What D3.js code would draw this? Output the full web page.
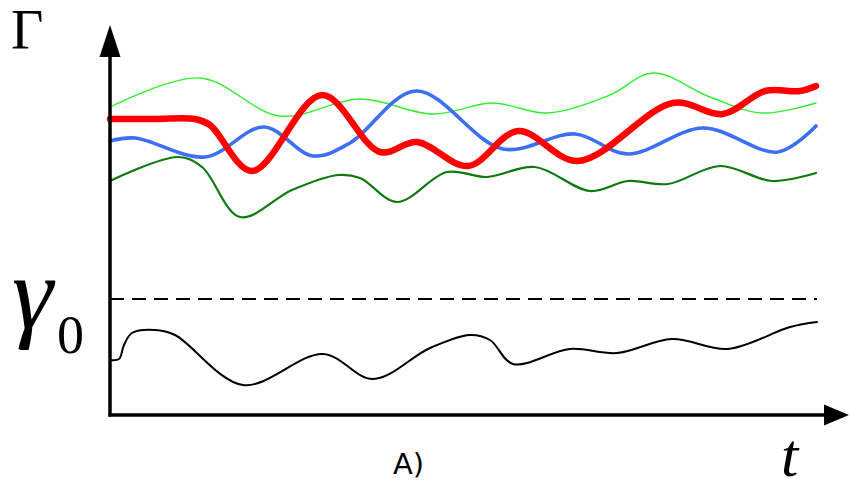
<!DOCTYPE html>
<html>
<head>
<meta charset="utf-8">
<script src="https://cdn.jsdelivr.net/npm/d3@7"></script>
<style>
  html, body { margin: 0; padding: 0; background: #fff; }
  svg { display: block; }
</style>
</head>
<body>
<div id="chart"></div>
<script>
// values: t along the time axis, value = height above the t axis
const lightGreenT = [0, 90, 170, 250, 323, 383, 437, 500, 543, 600, 652, 706];
const lightGreen  = [308, 337, 299, 316, 301, 312, 302, 320, 342, 318, 302, 312];

const blueT = [0, 25, 95, 154, 203, 240, 306, 393, 465, 518, 593, 668, 706];
const blue  = [274, 277, 258, 288, 259, 272, 324, 266, 281, 261, 287, 263, 289];

const redT = [0, 45, 85, 100, 142, 212, 270, 307, 358, 408, 468, 563, 613, 655, 690, 706];
const red  = [296, 296, 296, 290, 244, 320, 263, 273, 249, 284, 254, 312, 301, 324, 324, 329];

const darkGreenT = [0, 68, 92, 130, 182, 228, 250, 287, 337, 377, 425, 480, 518, 558, 610, 662, 706];
const darkGreen  = [234, 258, 248, 198, 225, 240, 237, 213, 243, 238, 248, 224, 234, 231, 249, 234, 242];

const blackT = [0, 9, 14, 22, 45, 65, 133, 213, 263, 320, 360, 380, 403, 460, 507, 562, 618, 680, 707];
const black  = [55, 56, 70, 82, 85, 80, 30, 61, 36, 67, 80, 75, 51, 66, 62, 76, 66, 88, 93];

const gamma0 = 116;

const width = 850, height = 483;
const margin = {top: 25, right: 33, bottom: 68, left: 110};

const svg = d3.select('#chart').append('svg')
    .attr('width', width)
    .attr('height', height);

const x = d3.scaleLinear()
    .domain([0, 707])
    .range([margin.left, margin.left + 707]);

const y = d3.scaleLinear()
    .domain([0, 390])
    .range([height - margin.bottom, height - margin.bottom - 390]);

const line = d3.line()
    .x(d => x(d[0]))
    .y(d => y(d[1]))
    .curve(d3.curveCatmullRom.alpha(0.5));

const zip = (ts, vs) => ts.map((t, i) => [t, vs[i]]);

const series = [
    {t: lightGreenT, v: lightGreen, color: '#2ef02e', w: 1.4},
    {t: darkGreenT, v: darkGreen, color: '#0d7a0d', w: 2.2},
    {t: blueT, v: blue, color: '#3d6ff5', w: 3.6},
    {t: redT, v: red, color: '#ff0000', w: 6.5},
    {t: blackT, v: black, color: '#000', w: 2}
];

// dashed threshold
svg.append('line')
    .attr('x1', x(0))
    .attr('x2', x(707))
    .attr('y1', y(gamma0))
    .attr('y2', y(gamma0))
    .attr('stroke', '#000')
    .attr('stroke-width', 2)
    .attr('stroke-dasharray', '14,8');

svg.selectAll('.curve')
    .data(series)
    .enter().append('path')
    .attr('class', 'curve')
    .attr('fill', 'none')
    .attr('stroke', d => d.color)
    .attr('stroke-width', d => d.w)
    .attr('stroke-linejoin', 'round')
    .attr('stroke-linecap', 'round')
    .attr('d', d => line(zip(d.t, d.v)));

// axes with arrow heads
const x0 = x(0), y0 = y(0);
svg.append('line')
    .attr('x1', x0).attr('y1', y0 + 1.5)
    .attr('x2', x0).attr('y2', y(360))
    .attr('stroke', '#000').attr('stroke-width', 3.5);
svg.append('line')
    .attr('x1', x0 - 1.5).attr('y1', y0)
    .attr('x2', 828).attr('y2', y0)
    .attr('stroke', '#000').attr('stroke-width', 3.5);

svg.append('path')
    .attr('d', `M${x0},${y(390)} L${x0 - 10.5},${y(358)} L${x0 + 10.5},${y(358)} Z`)
    .attr('fill', '#000');
svg.append('path')
    .attr('d', `M849,${y0} L824,${y0 - 10.5} L824,${y0 + 10.5} Z`)
    .attr('fill', '#000');

// labels
svg.append('text')
    .attr('x', 11).attr('y', 49)
    .attr('font-family', 'Liberation Serif, serif')
    .attr('font-size', 56)
    .text('Γ');

const g0 = svg.append('text')
    .attr('x', 12).attr('y', 328)
    .attr('font-family', 'Liberation Serif, serif')
    .attr('font-size', 104);
g0.append('tspan').attr('font-style', 'italic').text('γ');
g0.append('tspan')
    .attr('x', 57).attr('y', 353)
    .attr('font-size', 54)
    .text('0');

svg.append('text')
    .attr('x', 781).attr('y', 476)
    .attr('font-family', 'Liberation Serif, serif')
    .attr('font-style', 'italic')
    .attr('font-size', 62)
    .text('t');

svg.append('text')
    .attr('x', 393).attr('y', 474)
    .attr('font-family', 'DejaVu Sans, sans-serif')
    .attr('font-size', 29)
    .text('A)');
</script>
</body>
</html>
